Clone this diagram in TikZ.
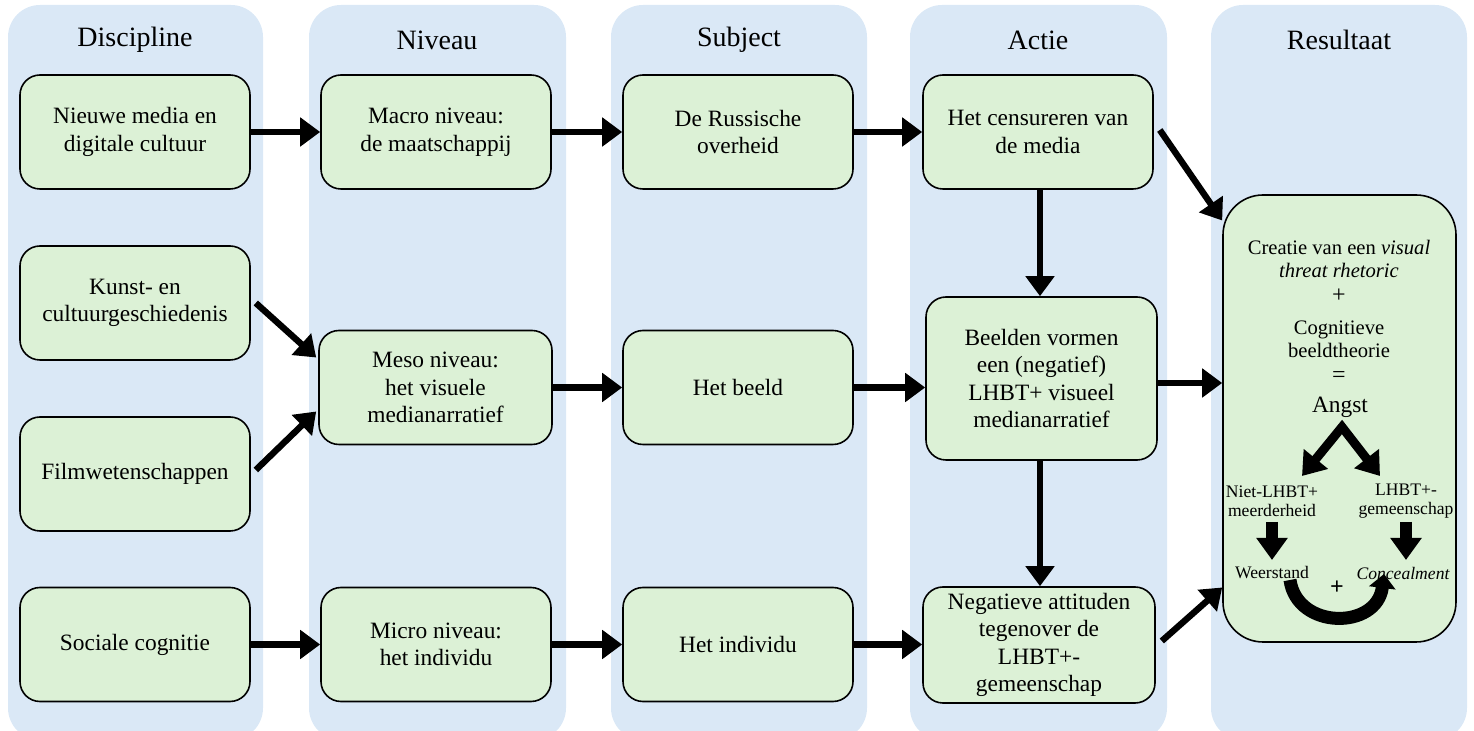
\documentclass[tikz,border=0pt]{standalone}
\usepackage{fontspec}
\setmainfont{Liberation Serif}
\usetikzlibrary{arrows.meta,calc}
\definecolor{colbg}{RGB}{218,232,246}
\definecolor{boxgreen}{RGB}{220,241,214}

\begin{document}
\begin{tikzpicture}[x=0.5pt,y=-0.5pt,
  column/.style={fill=colbg, draw=none, rounded corners=16pt},
  header/.style={font=\fontsize{14}{16}\selectfont},
  box/.style={draw, fill=boxgreen, line width=0.8pt, rounded corners=10pt,
    minimum width=115pt, minimum height=57pt, align=center, inner sep=1pt,
    font=\fontsize{11.7}{13.8}\selectfont},
  flow/.style={line width=3.2pt, -{Triangle[length=10pt,width=14pt]}},
  restext/.style={align=center, inner sep=0pt, font=\fontsize{10.3}{11.4}\selectfont},
  smalltext/.style={align=center, inner sep=0pt, font=\fontsize{8.8}{9.3}\selectfont},
  chev/.style={line width=4.5pt, line join=miter,
    {Triangle[length=11pt,width=15pt]}-{Triangle[length=11pt,width=15pt]}},
  stub/.style={line width=6pt, -{Triangle[length=11pt,width=15pt]}},
  cycle arrow/.style={line width=6.5pt, -{Triangle[length=7pt,width=13pt]}},
]
\useasboundingbox (0,0) rectangle (1474,731);

% column backgrounds
\fill[column] (8,5) rectangle (263,740);
\fill[column] (309,5) rectangle (566,740);
\fill[column] (611,5) rectangle (867,740);
\fill[column] (910,5) rectangle (1167,740);
\fill[column] (1211,5) rectangle (1467,740);

% column headers
\node[header] (hDis) at (135,40) {Discipline};
\node[header] (hNiv) at (437,40) {Niveau};
\node[header] (hSub) at (739,40) {Subject};
\node[header] (hAct) at (1038,40) {Actie};
\node[header] (hRes) at (1339,40) {Resultaat};

% Discipline
\node[box] (nieuwe) at (135,132) {Nieuwe media en\\digitale cultuur};
\node[box] (kunst) at (135,303) {Kunst- en\\cultuurgeschiedenis};
\node[box] (film) at (135,474) {Filmwetenschappen};
\node[box] (sociale) at (135,644.5) {Sociale cognitie};

% Niveau
\node[box] (macro) at (436,132) {Macro niveau:\\de maatschappij};
\node[box, minimum width=116.5pt] (meso) at (435.5,387.5) {Meso niveau:\\het visuele\\medianarratief};
\node[box] (micro) at (436,644.5) {Micro niveau:\\het individu};

% Subject
\node[box] (russ) at (738,132) {De Russische\\overheid};
\node[box] (beeld) at (738,387.5) {Het beeld};
\node[box] (individu) at (738,644.5) {Het individu};

% Actie
\node[box] (cens) at (1038,132) {Het censureren van\\de media};
\node[box, minimum width=115.5pt, minimum height=81.5pt] (beelden) at (1041.5,378.5)
  {Beelden vormen\\een (negatief)\\LHBT+ visueel\\medianarratief};
\node[box, minimum width=116pt, minimum height=58pt, inner sep=0pt] (negatief) at (1039,645)
  {Negatieve attituden\\tegenover de\\LHBT+-\\gemeenschap};

% Resultaat
\node[box, minimum width=116.5pt, minimum height=223.5pt, rounded corners=20pt] (result) at (1339.5,418.5) {};
\node[restext] (r1) at (1339,259) {Creatie van een \textit{visual}\\\textit{threat rhetoric}};
\node[restext, font=\fontsize{12}{13}\selectfont] (rplus) at (1339,296) {+};
\node[restext] (r2) at (1339,339.5) {Cognitieve\\beeldtheorie};
\node[restext, font=\fontsize{12}{13}\selectfont] (req) at (1339,377) {=};
\node[restext, font=\fontsize{11.7}{13}\selectfont] (angst) at (1340,407) {Angst};
\node[smalltext] (niet) at (1272,501) {Niet-LHBT+\\meerderheid};
\node[smalltext] (lhbt) at (1406,501) {LHBT+-\\gemeenschap};
\node[smalltext] (weer) at (1272,573) {Weerstand};
\node[smalltext, font=\itshape\fontsize{8.8}{9.3}\selectfont] (conc) at (1403,573) {Concealment};
\node[inner sep=0pt, font=\bfseries\fontsize{12}{13}\selectfont] (cplus) at (1337,588) {+};

\coordinate (apex) at (1342,427);
\coordinate (ltip) at (1302,476);
\coordinate (rtip) at (1380,476);
\draw[chev] (ltip) -- (apex) -- (rtip);
\draw[stub] (niet.south |- 0,522) -- (niet.south |- 0,560);
\draw[stub] (lhbt.south |- 0,522) -- (lhbt.south |- 0,560);
\coordinate (cstart) at (1290,580);
\coordinate (cend) at (1384,574);
\draw[cycle arrow] (cstart) .. controls (1297,630) and (1377,630) .. (cend);

% main connectors
\draw[flow] (nieuwe.east) -- (macro.west);
\draw[flow] (macro.east) -- (russ.west);
\draw[flow] (russ.east) -- (cens.west);
\draw[flow] ([xshift=3pt,yshift=1pt]cens.east) -- ([yshift=99pt]result.west);
\draw[flow] (cens.south -| 1040,0) -- (beelden.north -| 1040,0);
\draw[flow] (beelden.south -| 1040,0) -- (negatief.north -| 1040,0);
\draw[flow] (beelden.east |- 0,383) -- (result.west |- 0,383);
\draw[flow] ([xshift=3pt,yshift=2pt]negatief.east) -- ([yshift=-84.5pt]result.west);

\draw[flow] ([xshift=2.5pt]kunst.east) -- ([xshift=-1pt,yshift=15pt]meso.west);
\draw[flow] ([xshift=2.5pt,yshift=2pt]film.east) -- ([xshift=-1pt,yshift=-12pt]meso.west);
\draw[flow] (meso.east) -- (beeld.west);
\draw[flow] (beeld.east) -- (beelden.west |- beeld.east);

\draw[flow] (sociale.east) -- (micro.west);
\draw[flow] (micro.east) -- (individu.west);
\draw[flow] (individu.east) -- (negatief.west |- individu.east);
\end{tikzpicture}
\end{document}
